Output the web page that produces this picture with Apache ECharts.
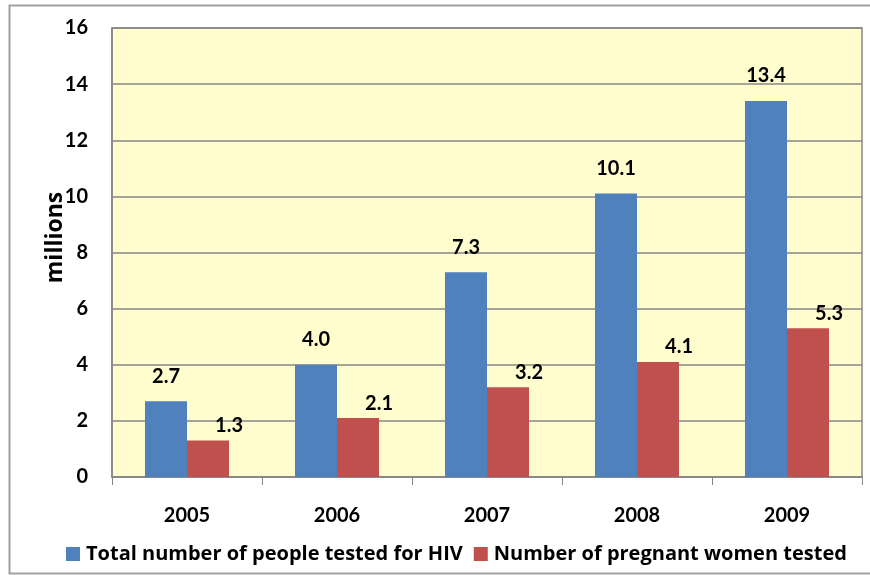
<!DOCTYPE html>
<html style="height: 100%">
  <head>
    <meta charset="utf-8" />
  </head>
  <body style="height: 100%; margin: 0; background: #fff">
    <div id="container" style="width: 870px; height: 575px"></div>
    <script src="https://cdn.jsdelivr.net/npm/echarts@6/dist/echarts.min.js"></script>
    <script>
      var years = ["2005", "2006", "2007", "2008", "2009"];
      var totalTested = [2.7, 4.0, 7.3, 10.1, 13.4];
      var pregnantTested = [1.3, 2.1, 3.2, 4.1, 5.3];
      var yTicks = [0, 2, 4, 6, 8, 10, 12, 14, 16];

      var fontFam = "Lato, 'Open Sans', sans-serif";
      var wideFam = "'Open Sans', Lato, sans-serif";
      var chart = echarts.init(document.getElementById("container"));

      var option = {
        animation: false,
        textStyle: { fontFamily: fontFam },
        grid: {
          left: 112,
          top: 28,
          right: 8,
          bottom: 98,
          show: true,
          backgroundColor: "#FFFDCD",
          borderColor: "#868686",
          borderWidth: 1.5
        },
        legend: {
          bottom: 11,
          left: 66,
          padding: 0,
          itemWidth: 14,
          itemHeight: 14,
          itemGap: 11,
          icon: "rect",
          textStyle: { fontSize: 20, fontWeight: "bold", color: "#000", fontFamily: wideFam, padding: [0, 0, 0, 1] }
        },
        graphic: [
          {
            type: "rect",
            shape: { x: 9.5, y: 5.5, width: 900, height: 568 },
            style: { fill: "none", stroke: "#a0a0a0", lineWidth: 2 },
            silent: true
          }
        ],
        xAxis: {
          type: "category",
          data: years,
          axisLine: { lineStyle: { color: "#868686", width: 1.5 } },
          axisTick: { show: true, length: 8, lineStyle: { color: "#868686" } },
          axisLabel: { fontSize: 20, fontWeight: "bold", color: "#000", margin: 29 }
        },
        yAxis: {
          type: "value",
          name: "millions",
          nameLocation: "middle",
          nameMoveOverlap: false,
          nameGap: 45,
          nameTextStyle: {
            fontSize: 23,
            fontWeight: "bold",
            color: "#000",
            fontFamily: wideFam,
            padding: [0, 0, 0, 30]
          },
          min: yTicks[0],
          max: yTicks[yTicks.length - 1],
          interval: 2,
          axisLine: { show: true, lineStyle: { color: "#868686", width: 1.5 } },
          axisTick: { show: false },
          splitLine: { lineStyle: { color: "#868686", width: 1.5 } },
          axisLabel: { fontSize: 20, fontWeight: "bold", color: "#000", margin: 24 }
        },
        series: [
          {
            name: "Total number of people tested for HIV",
            type: "bar",
            data: totalTested,
            barWidth: 42,
            barGap: 0,
            itemStyle: { color: "#4F81BD" },
            label: {
              show: true,
              position: "top",
              distance: 15,
              fontSize: 20,
              fontWeight: "bold",
              color: "#000",
              formatter: function (p) { return p.value.toFixed(1); }
            }
          },
          {
            name: "Number of pregnant women tested",
            type: "bar",
            data: pregnantTested,
            barWidth: 42,
            barGap: 0,
            itemStyle: { color: "#C0504D" },
            label: {
              show: true,
              position: "top",
              distance: 5,
              offset: [21, 0],
              fontSize: 20,
              fontWeight: "bold",
              color: "#000",
              formatter: function (p) { return p.value.toFixed(1); }
            }
          }
        ]
      };
      chart.setOption(option);
    </script>
  </body>
</html>
